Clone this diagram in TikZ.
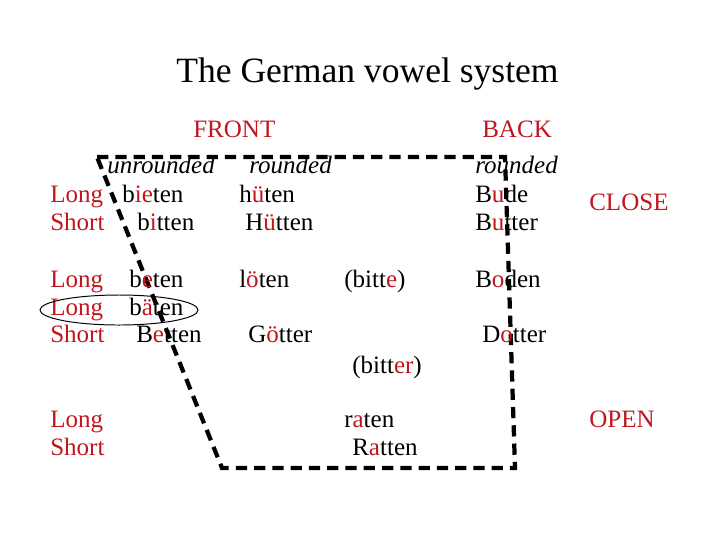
\documentclass[tikz,border=0pt]{standalone}
\usepackage{fontspec}
\setmainfont{Liberation Serif}
\usepackage{xcolor}
\usepackage{tikz}
\usetikzlibrary{shapes.geometric}
\definecolor{vowelred}{HTML}{C0161E}
\newcommand{\rv}[1]{\textcolor{vowelred}{#1}}
\tikzset{
  word/.style={anchor=base west, inner sep=0pt,
    font=\fontsize{17.8}{20}\selectfont},
  rowname/.style={word, text=vowelred},
  rounding/.style={word, font=\fontsize{17.8}{20}\selectfont\itshape},
  titletext/.style={anchor=base west, inner sep=0pt,
    font=\fontsize{25.3}{28}\selectfont},
  boundary/.style={line width=3pt, dash pattern=on 8pt off 5pt},
  ringmark/.style={ellipse, draw, line width=0.7pt,
    minimum width=3.95cm, minimum height=0.75cm, inner sep=0pt},
}

\begin{document}
\begin{tikzpicture}[x=0.025cm, y=-0.025cm]
  \useasboundingbox (0,0) rectangle (720,540);
  \node[titletext] (title) at (176,82) {The German vowel system};
  \node[rowname] (front) at (193,137) {FRONT};
  \node[rowname] (back) at (482,137) {BACK};
  % vowel space
  \coordinate (tl) at (97,157);
  \coordinate (tr) at (505,157);
  \coordinate (br) at (515,468);
  \coordinate (bl) at (222,468);
  \draw[boundary] (tl) -- (tr) -- (br) -- (bl) -- cycle;
  \node[rounding] (unr) at (107,173) {unrounded};
  \node[rounding] (rdf) at (249,173) {rounded};
  \node[rounding] (rdb) at (475,173) {rounded};
  % close
  \node[rowname] (l1) at (50,202) {Long};
  \node[rowname] (s1) at (50,230) {Short};
  \node[word] (bieten) at (122,202) {b\rv{ie}ten};
  \node[word] (hueten) at (239,202) {h\rv{ü}ten};
  \node[word] (bitten) at (137,230) {b\rv{i}tten};
  \node[word] (huetten) at (245,230) {H\rv{ü}tten};
  \node[word] (bude) at (475,202) {B\rv{u}de};
  \node[word] (butter) at (475,230) {B\rv{u}tter};
  \node[rowname] (close) at (589,210) {CLOSE};
  % mid
  \node[rowname] (l2) at (50,287) {Long};
  \node[rowname] (l3) at (50,315) {Long};
  \node[rowname] (s2) at (50,342) {Short};
  \node[word] (beten) at (129,287) {b\rv{e}ten};
  \node[word] (baeten) at (129,315) {b\rv{ä}ten};
  \node[word] (betten) at (136,342) {B\rv{e}tten};
  \node[word] (loeten) at (239,287) {l\rv{ö}ten};
  \node[word] (goetter) at (248,342) {G\rv{ö}tter};
  \node[word] (bitte) at (344,287) {(bitt\rv{e})};
  \node[word] (boden) at (475,287) {B\rv{o}den};
  \node[word] (dotter) at (482,342) {D\rv{o}tter};
  \node[word] (bitter) at (352,373) {(bitt\rv{er})};
  \node[ringmark] (pair) at (119,310) {};
  % open
  \node[rowname] (l4) at (50,427) {Long};
  \node[rowname] (s4) at (50,455) {Short};
  \node[word] (raten) at (344,427) {r\rv{a}ten};
  \node[word] (ratten) at (352,455) {R\rv{a}tten};
  \node[rowname] (open) at (589,427) {OPEN};
\end{tikzpicture}
\end{document}
